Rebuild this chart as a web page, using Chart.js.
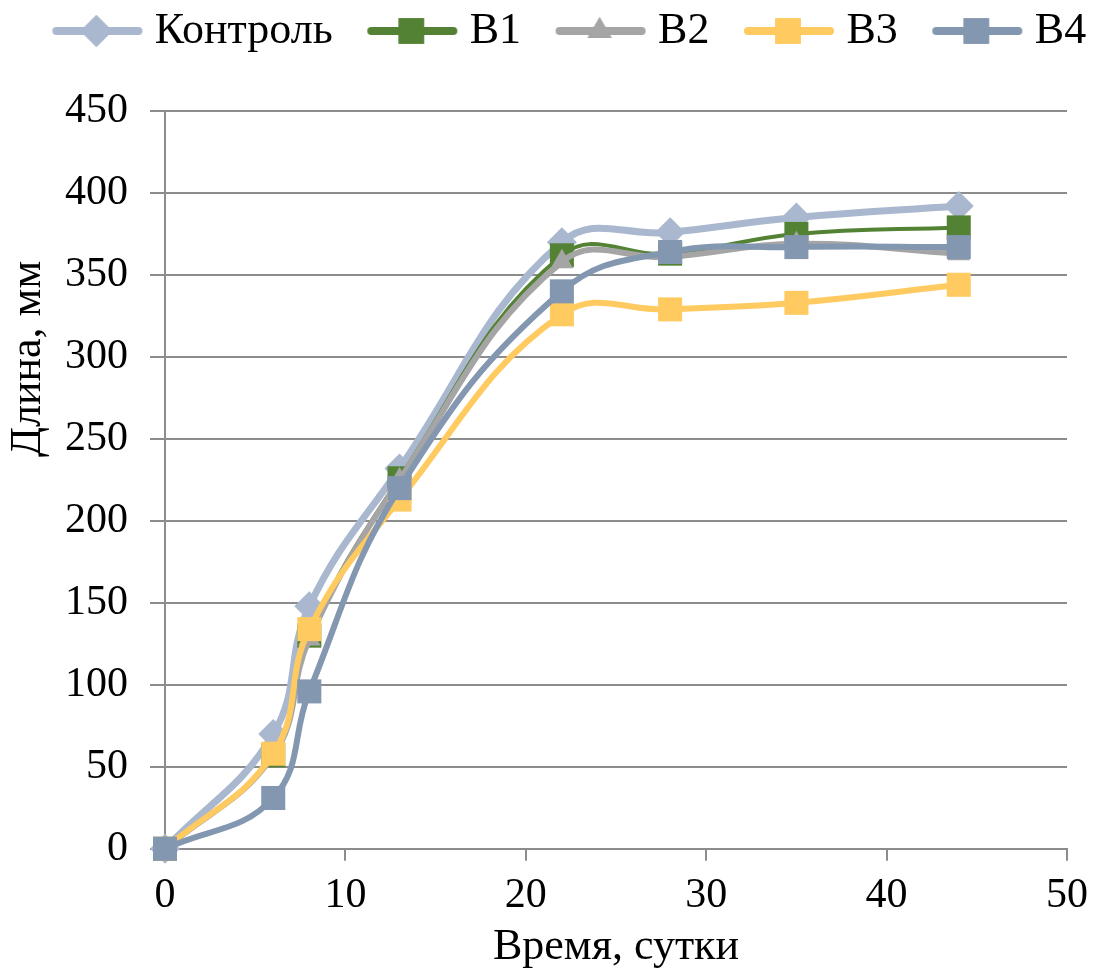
<!DOCTYPE html>
<html>
<head>
<meta charset="utf-8">
<script src="https://cdn.jsdelivr.net/npm/chart.js@4"></script>
<style>
  html, body { margin: 0; padding: 0; background: #ffffff; }
  #wrap { width: 1113px; height: 980px; }
</style>
</head>
<body>
<div id="wrap"><canvas id="chart"></canvas></div>
<script>
const days = [0, 6, 8, 13, 22, 28, 35, 44];
const control = [0, 70, 148, 232, 370, 376, 385, 392];
const b1 = [0, 57, 130, 226, 362, 363, 375, 379];
const b2 = [0, 57, 128, 225, 358, 361, 369, 363];
const b3 = [0, 58, 134, 213, 326, 329, 333, 344];
const b4 = [0, 31, 96, 220, 340, 364, 367, 367];
const seriesNames = ["Контроль", "B1", "B2", "B3", "B4"];
const xTicks = [0, 10, 20, 30, 40, 50];
const yTicks = [0, 50, 100, 150, 200, 250, 300, 350, 400, 450];

const fontFamily = "'Liberation Serif', 'Times New Roman', serif";
const gridColor = "#8c8c8c";

// the y title sits above the middle of the axis in the original;
// leading spaces push the centred text up
const yTitle = " ".repeat(22) + "Длина, мм";

const styles = [
  { color: "#a9b8cf", marker: "rectRot", radius: 15, width: 7 },
  { color: "#548235", marker: "rect", radius: 17, width: 4 },
  { color: "#a5a5a5", marker: "triangle", radius: 13, width: 6 },
  { color: "#ffca5f", marker: "rect", radius: 17, width: 6 },
  { color: "#8497b0", marker: "rect", radius: 17, width: 6 },
];

function toPoints(values) {
  return values.map(function (v, i) {
    return { x: days[i], y: v };
  });
}

// legend box is 81 wide; the 200px icon is centred on it, so the box
// starts at 59.5 inside the icon and the line runs ~90px from there
function legendIcon(style) {
  const c = document.createElement("canvas");
  c.width = 200;
  c.height = 40;
  const ctx = c.getContext("2d");
  ctx.strokeStyle = style.color;
  ctx.lineWidth = 8;
  ctx.lineCap = "round";
  ctx.beginPath();
  ctx.moveTo(64, 20);
  ctx.lineTo(146, 20);
  ctx.stroke();
  ctx.fillStyle = style.color;
  Chart.helpers.drawPoint(ctx, {
    pointStyle: style.marker,
    radius: style.radius + 1,
    borderWidth: 0,
  }, 104, 20);
  ctx.fill();
  return c;
}

// extra room under the legend and a wider row, as in the original
const legendSpacing = {
  id: "legendSpacing",
  afterInit: function (chart) {
    const legend = chart.legend;
    const fit = legend.fit;
    legend.fit = function () {
      legend.maxWidth = chart.width + 100;
      fit.call(legend);
      legend.height += 48;
    };
  },
  afterLayout: function (chart) {
    chart.legend.left = -22;
    chart.legend.right = 1160;
  },
};

const allValues = [control, b1, b2, b3, b4];

const datasets = allValues.map(function (values, i) {
  const s = styles[i];
  return {
    label: seriesNames[i],
    data: toPoints(values),
    borderColor: s.color,
    backgroundColor: s.color,
    borderWidth: s.width,
    pointStyle: s.marker,
    pointRadius: s.radius,
    pointHoverRadius: s.radius,
    pointBorderWidth: 0,
    pointBackgroundColor: s.color,
    tension: 0.42,
    clip: false,
    order: allValues.length - i,
  };
});

new Chart(document.getElementById("chart"), {
  type: "line",
  data: { datasets: datasets },
  plugins: [legendSpacing],
  options: {
    responsive: true,
    maintainAspectRatio: false,
    animation: false,
    layout: { padding: { left: 8, right: 46, top: -25, bottom: 6 } },
    plugins: {
      tooltip: { enabled: false },
      legend: {
        position: "top",
        align: "center",
        labels: {
          usePointStyle: true,
          pointStyleWidth: 81,
          padding: 34,
          color: "#000000",
          font: { family: fontFamily, size: 44 },
          generateLabels: function (chart) {
            return chart.data.datasets.map(function (ds, i) {
              return {
                text: ds.label,
                pointStyle: legendIcon(styles[i]),
                fillStyle: styles[i].color,
                strokeStyle: styles[i].color,
                lineWidth: 0,
                hidden: false,
                datasetIndex: i,
                fontColor: "#000000",
              };
            });
          },
        },
      },
    },
    scales: {
      x: {
        type: "linear",
        min: 0,
        max: 50,
        afterBuildTicks: function (axis) {
          axis.ticks = xTicks.map(function (v) { return { value: v }; });
        },
        grid: {
          drawOnChartArea: false,
          drawTicks: true,
          tickLength: 12,
          color: gridColor,
          lineWidth: 2,
        },
        border: { display: true, color: gridColor, width: 2 },
        ticks: {
          color: "#000000",
          font: { family: fontFamily, size: 42 },
          padding: 10,
          maxRotation: 0,
        },
        title: {
          display: true,
          text: "Время, сутки",
          color: "#000000",
          font: { family: fontFamily, size: 44 },
          padding: { top: -10, bottom: 0 },
        },
      },
      y: {
        min: 0,
        max: 450,
        afterBuildTicks: function (axis) {
          axis.ticks = yTicks.map(function (v) { return { value: v }; });
        },
        afterFit: function (axis) {
          axis.width = 157;
        },
        grid: {
          drawTicks: true,
          tickLength: 15,
          color: gridColor,
          lineWidth: 2,
        },
        border: { display: true, color: gridColor, width: 2 },
        ticks: {
          color: "#000000",
          font: { family: fontFamily, size: 42 },
          padding: 22,
        },
        title: {
          display: true,
          text: yTitle,
          color: "#000000",
          font: { family: fontFamily, size: 44 },
          padding: { top: -6, bottom: 0 },
        },
      },
    },
  },
});
</script>
</body>
</html>
